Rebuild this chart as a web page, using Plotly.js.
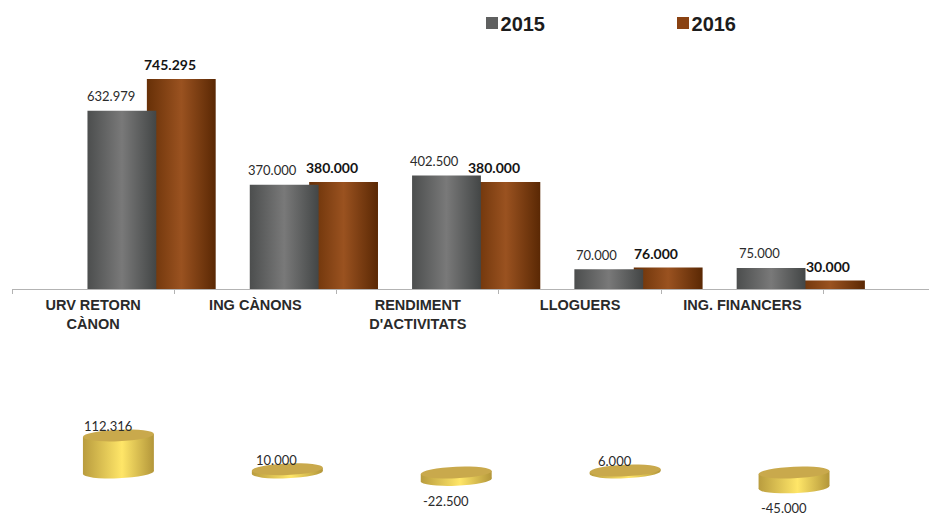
<!DOCTYPE html>
<html>
<head>
<meta charset="utf-8">
<script src="https://cdn.plot.ly/plotly-3.0.1.min.js"></script>
<style>html,body{margin:0;padding:0;background:#fff}#chart{width:929px;height:515px}</style>
</head>
<body>
<div id="chart"></div>
<script>
// ---- data ----
const categories = ["URV RETORN<br>CÀNON", "ING CÀNONS", "RENDIMENT<br>D'ACTIVITATS", "LLOGUERS", "ING. FINANCERS"];
const values2015 = [632979, 370000, 402500, 70000, 75000];
const values2016 = [745295, 380000, 380000, 76000, 30000];
const differences = [112316, 10000, -22500, 6000, -45000];

// ---- label nudges (px from category centre) ----
const dx2015 = [18.3, 17, 17, 16.7, 17];
const dx2016 = [76.5, 77, 76, 76, 86];

// ---- styles ----
const GREY = "#5f6060", BROWN = "#8a4212", GOLD = "#e2c552", GOLD_TOP = "#c9a94c";
const gradients = {
  "rgb(95, 96, 96)": [["0%", "#4c4e4e"], ["50%", "#797979"], ["100%", "#434646"]],
  "rgb(138, 66, 18)": [["0%", "#673007"], ["50%", "#9a5220"], ["100%", "#5a2804"]],
  "rgb(226, 197, 82)": [["0%", "#b99c3e"], ["55%", "#ffe668"], ["100%", "#b3963a"]]
};
const fmt = v => (v < 0 ? "-" : "") + Math.floor(Math.abs(v) / 1000) + "." + String(Math.abs(v) % 1000).padStart(3, "0");
const idx = categories.map((_, i) => i);

const traces = [
  {type: "bar", name: "2016", x: categories, y: values2016, width: 0.424, offset: 0.331,
   marker: {color: BROWN}, legendrank: 2, hoverinfo: "y", xaxis: "x", yaxis: "y"},
  {type: "bar", name: "2015", x: categories, y: values2015, width: 0.424, offset: -0.035,
   marker: {color: GREY}, legendrank: 1, hoverinfo: "y", xaxis: "x", yaxis: "y"},
  {type: "bar", name: "Diferència", x: idx, y: differences, width: 0.42, showlegend: false,
   marker: {color: GOLD}, hoverinfo: "y", xaxis: "x2", yaxis: "y2"}
];

const annotations = [];
function lab(xref, yref, x, y, text, xshift, yshift, font) {
  annotations.push({xref, yref, x, y, text, xshift, yshift, showarrow: false, borderpad: 0,
    xanchor: "center", yanchor: "middle", font});
}
const reg = {family: "Lato, 'Open Sans', sans-serif", size: 13, color: "#2b2b2b"};
const bold = {family: "Lato, 'Open Sans', sans-serif", size: 14, color: "#151515", weight: 700};
idx.forEach(i => {
  lab("x", "y", i, values2015[i], fmt(values2015[i]), dx2015[i], 14.5, reg);
  lab("x", "y", i, values2016[i], fmt(values2016[i]), dx2016[i], 14.5, bold);
  const d = differences[i];
  lab("x2", "y2", i, d, fmt(d), -10.5, d > 0 ? 9.5 : -21, reg);
});

const shapes = [];
idx.forEach(i => {
  const d = differences[i];
  const ell = (yanchor, fill, layer) => ({type: "circle", layer, xref: "x2", yref: "y2",
    xsizemode: "pixel", ysizemode: "pixel", xanchor: i, yanchor,
    x0: -35.5, x1: 35.5, y0: -5.8, y1: 5.8, fillcolor: fill, line: {width: 0}});
  shapes.push(ell(Math.min(d, 0), GOLD, "below"));
  shapes.push(ell(Math.max(d, 0), GOLD_TOP, "above"));
});

const layout = {
  width: 929, height: 515,
  margin: {l: 11.5, r: 0, t: 0, b: 0, pad: 0},
  paper_bgcolor: "#fff", plot_bgcolor: "rgba(0,0,0,0)",
  barmode: "overlay", showlegend: true,
  legend: {orientation: "h", x: 0.4891, y: 0.993, xanchor: "left", yanchor: "top",
    entrywidthmode: "pixels", entrywidth: 146, itemwidth: 30,
    font: {family: "'Liberation Sans', Arial, sans-serif", size: 20, color: "#1c1c1c", weight: 700},
    bgcolor: "rgba(0,0,0,0)", traceorder: "normal"},
  xaxis: {type: "category", domain: [0, 1], range: [-0.5, 5.15], categoryorder: "array", categoryarray: categories,
    tickson: "boundaries", ticks: "outside", ticklen: 4, tickcolor: "#b3b3b3", tickwidth: 1,
    showline: true, linecolor: "#b3b3b3", linewidth: 1, showgrid: false, zeroline: false,
    ticklabelstandoff: 3,
    tickfont: {family: "'Liberation Sans', Arial, sans-serif", size: 14.5, color: "#2a2a2a", weight: 700},
    anchor: "y", automargin: false, tickangle: 0},
  yaxis: {domain: [0.4388, 1], range: [0, 1025600], visible: false, fixedrange: true},
  xaxis2: {type: "linear", domain: [0, 1], range: [-0.63, 4.799], visible: false, anchor: "y2"},
  yaxis2: {domain: [0, 0.2], range: [-128800, 183300], visible: false, anchor: "x2", fixedrange: true},
  annotations, shapes
};

Plotly.newPlot("chart", traces, layout, {displayModeBar: false, staticPlot: true}).then(gd => {
  const svg = gd.querySelector("svg.main-svg");
  const NS = "http://www.w3.org/2000/svg";
  let defs = svg.querySelector("defs");
  const ids = {};
  Object.keys(gradients).forEach((key, n) => {
    const g = document.createElementNS(NS, "linearGradient");
    g.setAttribute("id", "cyl" + n);
    g.setAttribute("x1", "0"); g.setAttribute("x2", "1"); g.setAttribute("y1", "0"); g.setAttribute("y2", "0");
    gradients[key].forEach(([o, c]) => {
      const s = document.createElementNS(NS, "stop");
      s.setAttribute("offset", o); s.setAttribute("stop-color", c); g.appendChild(s);
    });
    defs.appendChild(g);
    ids[key] = "url(#cyl" + n + ")";
  });
  // tilt of the pseudo-3D cylinders
  const k = -0.042;
  const tilt = p => {
    const b = p.getBBox(), cx = b.x + b.width / 2;
    p.setAttribute("transform", `matrix(1,${k},0,1,0,${-k * cx})`);
  };
  gd.querySelectorAll(".barlayer .point path, .shapelayer path").forEach(p => {
    const fill = p.style.fill;
    const isGold = fill === "rgb(226, 197, 82)" || fill === "rgb(201, 169, 76)";
    const id = ids[fill];
    if (id) p.style.fill = id;
    if (isGold) tilt(p);
  });
  // legend swatches sit right next to their text
  gd.querySelectorAll(".legend .legendsymbols").forEach(s => s.setAttribute("transform", "translate(11.5,0)"));
});
</script>
</body>
</html>
